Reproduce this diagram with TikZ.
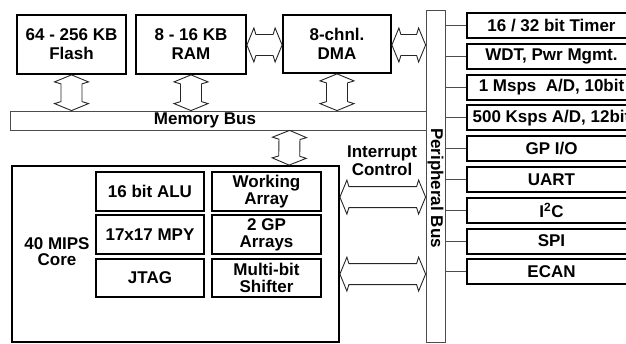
\documentclass[tikz,border=0pt]{standalone}
\usepackage{fontspec}
\setmainfont{Liberation Sans}
\usetikzlibrary{calc}
\begin{document}
\begin{tikzpicture}[x=1pt,y=-1pt,
  lbl/.style={font=\fontsize{17}{18}\selectfont\bfseries, align=center, inner sep=0pt},
  box/.style={draw, line width=1.8pt, minimum width=#1, inner sep=0pt, align=center,
    font=\fontsize{17}{19}\selectfont\bfseries},
  ibox/.style={draw, line width=1.8pt, minimum width=#1, inner sep=0pt, align=center,
    font=\fontsize{17}{17}\selectfont\bfseries},
  pbox/.style={draw, line width=2pt, minimum width=169, minimum height=25, inner sep=0pt,
    font=\fontsize{17}{18}\selectfont\bfseries},
  bus/.style={draw=black!70, line width=0.8pt, inner sep=0pt},
  tick/.style={draw=black!70, line width=0.8pt},
  dblarrow/.style={draw=black!85, line width=0.9pt, line join=miter, to path={
    -- ($(\tikztostart)!7pt!(\tikztotarget)!17pt!90:(\tikztotarget)$)
    -- ($(\tikztostart)!9pt!(\tikztotarget)!10.5pt!90:(\tikztotarget)$)
    -- ($(\tikztotarget)!9pt!(\tikztostart)!10.5pt!-90:(\tikztostart)$)
    -- ($(\tikztotarget)!7pt!(\tikztostart)!17pt!-90:(\tikztostart)$)
    -- (\tikztotarget)
    -- ($(\tikztotarget)!7pt!(\tikztostart)!17pt!90:(\tikztostart)$)
    -- ($(\tikztotarget)!9pt!(\tikztostart)!10.5pt!90:(\tikztostart)$)
    -- ($(\tikztostart)!9pt!(\tikztotarget)!10.5pt!-90:(\tikztotarget)$)
    -- ($(\tikztostart)!7pt!(\tikztotarget)!17pt!-90:(\tikztotarget)$)
    -- (\tikztostart)}}
]
\useasboundingbox (0,0) rectangle (626,344);
\clip (0,0) rectangle (626,344);

% memory blocks
\node[box=109, minimum height=59] (flash) at (71.5,44.5) {64 - 256 KB\\Flash};
\node[box=110, minimum height=59] (ram) at (191,44.5) {8 - 16 KB\\RAM};
\node[box=108, minimum height=58] (dma) at (337,44) {8-chnl.\\DMA};

% buses
\node[bus, minimum width=416, minimum height=19] (mbus) at (218,120.5) {};
\node[lbl] (mbustxt) at (205,120.5) {Memory Bus};
\node[bus, minimum width=19, minimum height=332] (pbus) at (435.5,176) {};
\node[lbl, rotate=-90] (pbustxt) at (435.5,188) {Peripheral Bus};

% core
\node[draw, line width=1.8pt, minimum width=327, minimum height=176, inner sep=0pt] (core) at (175.5,254) {};
\node[lbl, font=\fontsize{17}{16}\selectfont\bfseries] (coretxt) at (57,252) {40 MIPS\\Core};
\node[ibox=108, minimum height=39] (alu) at (150,191.5) {16 bit ALU};
\node[ibox=108, minimum height=39] (mpy) at (150,234.5) {17x17 MPY};
\node[ibox=108, minimum height=38] (jtag) at (150,278) {JTAG};
\node[ibox=109, minimum height=39] (warr) at (266.5,191.5) {Working\\Array};
\node[ibox=109, minimum height=39] (gparr) at (266.5,234.5) {2 GP\\Arrays};
\node[ibox=109, minimum height=38] (shift) at (266.5,278) {Multi-bit\\Shifter};
\node[lbl] (intc) at (382,161) {Interrupt\\Control};

% peripherals
\node[pbox] (p1) at (551.5,25.5) {16 / 32 bit Timer};
\node[pbox] (p2) at (551.5,56.3) {WDT, Pwr Mgmt.};
\node[pbox] (p3) at (551.5,87.1) {1 Msps\ \ A/D, 10bit};
\node[pbox] (p4) at (551.5,117.9) {500 Ksps A/D, 12bit};
\node[pbox] (p5) at (551.5,148.7) {GP I/O};
\node[pbox] (p6) at (551.5,179.5) {UART};
\node[pbox] (p7) at (551.5,210.3) {I\textsuperscript{2}C};
\node[pbox] (p8) at (551.5,241.1) {SPI};
\node[pbox] (p9) at (551.5,271.9) {ECAN};
\foreach \p in {p1,p2,p3,p4,p5,p6,p7,p8,p9}
  \draw[tick] (\p.west) -- (\p.west -| pbus.east);

% block arrows
\draw[dblarrow] (flash.south) to (flash.south |- mbus.north);
\draw[dblarrow] (ram.south) to (ram.south |- mbus.north);
\draw[dblarrow] (dma.south) to (dma.south |- mbus.north);
\draw[dblarrow] ($(mbus.south west)+(280,0)$) to ($(core.north west)+(278,0)$);
\draw[dblarrow] ($(ram.east)+(0,0.5)$) to ($(dma.west)+(0,1)$);
\draw[dblarrow] ($(dma.east)+(0,1)$) to ($(dma.east -| pbus.west)+(0,1)$);
\coordinate (ca) at (core.north east -| pbus.west);
\draw[dblarrow] ($(core.north east)+(0,32)$) to ($(ca)+(0,32)$);
\draw[dblarrow] ($(core.north east)+(0,109)$) to ($(ca)+(0,109)$);
\end{tikzpicture}
\end{document}
